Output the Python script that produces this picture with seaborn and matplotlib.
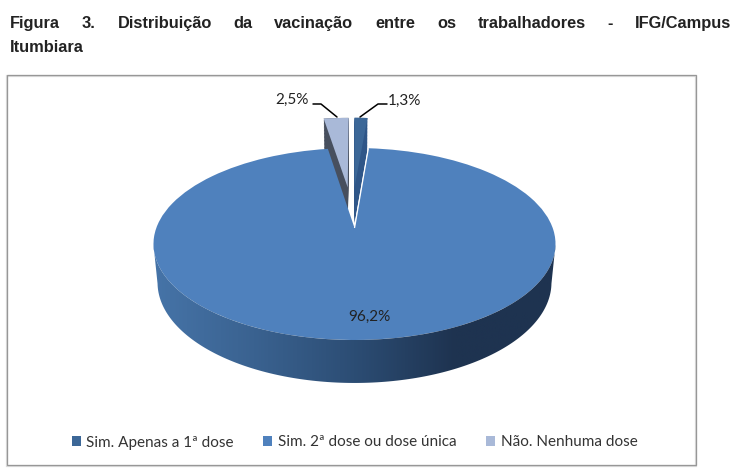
import numpy as np
import seaborn as sns
import matplotlib
matplotlib.use("Agg")
import matplotlib.pyplot as plt
from matplotlib.colors import LinearSegmentedColormap
from matplotlib.patches import Patch, Polygon, Rectangle
from matplotlib.path import Path
from matplotlib.transforms import Transform

categories = ["Sim. Apenas a 1ª dose", "Sim. 2ª dose ou dose única", "Não. Nenhuma dose"]
percent = [1.3, 96.2, 2.5]
title_lines = ["Figura 3. Distribuição da vacinação entre os trabalhadores - IFG/Campus", "Itumbiara"]

top_colors = ["#3c6797", "#4f81bd", "#a9b9d8"]
side_colors = ["#2f5688", "#2f5688", "#474f5e"]


class Tilt(Transform):
    """Perspective view of the unit pie, out in pixels. z=0 top face, z=1 bottom."""
    input_dims = output_dims = 2
    is_separable = False
    has_inverse = False

    def __init__(self, z=0.0):
        super().__init__()
        self.z = z

    def transform_non_affine(self, xy):
        xy = np.asarray(xy, dtype=float)
        w = 1 + xy[:, 1] / 6 + 0.02 * self.z
        return np.column_stack([
            354.5 + 198.2 * xy[:, 0] / w,
            228 - (93.33 * xy[:, 1] - 38.9 * self.z) / w,
        ])

    def transform_path_non_affine(self, path):
        return Path(self.transform_non_affine(path.vertices), path.codes)


def pie_layer(ax, z, colors, show):
    wedges, _ = ax.pie(percent, colors=colors, startangle=90, counterclock=False,
                       explode=[0.47, 0, 0.47], wedgeprops=dict(linewidth=0))
    wedges[0].set_center((0.0, 0.47))
    for i, wedge in enumerate(wedges):
        wedge.set_transform(Tilt(z) + ax.transData)
        wedge.set_visible(i in show)
    return wedges


def justified(ax, text, x0, x1, y, **kw):
    words = text.split()
    items = [ax.text(x0, y, w, va="baseline", ha="left", **kw) for w in words]
    r = ax.figure.canvas.get_renderer()
    widths = [t.get_window_extent(r).width for t in items]
    gap = (x1 - x0 - sum(widths)) / (len(words) - 1)
    x = x0
    for t, w in zip(items, widths):
        t.set_x(x)
        x += w + gap


sns.set_theme(style="white")
plt.rcParams["font.family"] = ["Lato", "DejaVu Sans"]

fig = plt.figure(figsize=(7.36, 4.74), dpi=100)
ax = fig.add_axes([0, 0, 1, 1])

# walls of the two pulled out slices, then their tops
for z in np.linspace(1, 0, 24):
    pie_layer(ax, z, side_colors, show=(0, 2))
pie_layer(ax, 0, top_colors, show=(0, 2))

big = pie_layer(ax, 0, top_colors, show=(1,))[1]
tilt = Tilt(0)
edge = tilt.transform(np.array([[0, 0], [np.cos(np.radians(big.theta2)), np.sin(np.radians(big.theta2))]]))
ax.plot(edge[:, 0], edge[:, 1], color="white", lw=0.9, solid_capstyle="butt", zorder=3)

# front wall of the big slice
theta = np.radians(np.linspace(190, 350, 160))
circle = np.column_stack([np.cos(theta), np.sin(theta)])
outline = np.vstack([tilt.transform(circle), Tilt(1).transform(circle)[::-1]])
wall_cmap = LinearSegmentedColormap.from_list("wall", ["#4674a8", "#3a6290", "#2c4d74", "#1e3350", "#1e3350"])
img = ax.imshow(np.linspace(0, 1, 256)[None, :], cmap=wall_cmap, aspect="auto",
                extent=(153, 556, 400, 230), zorder=2)
img.set_clip_path(Polygon(outline, transform=ax.transData))

ax.set_aspect("auto")
ax.set_xlim(0, 736)
ax.set_ylim(474, 0)
ax.axis("off")

# chart frame with its soft shadow
ax.add_patch(Rectangle((7, 75.5), 689, 390, fill=False, ec="#dcdcdc", lw=1.6, zorder=0))
ax.add_patch(Rectangle((6.5, 75), 689, 390, fill=False, ec="#979797", lw=0.9, zorder=1))

# value labels
fmt = [f"{v:.1f}%".replace(".", ",") for v in percent]
label_kw = dict(fontsize=11, color="#222222", va="center", zorder=5)
ax.text(388, 100.5, fmt[0], ha="left", **label_kw)
ax.text(369.5, 317, fmt[1], ha="center", **label_kw)
ax.text(309, 99.5, fmt[2], ha="right", **label_kw)
ax.plot([360, 378, 387], [117, 104, 104], color="black", lw=1.1, zorder=5)
ax.plot([313, 321, 337], [104, 104, 117], color="black", lw=1.1, zorder=5)

# title
title_kw = dict(family=["Liberation Sans"], fontweight="bold", fontsize=11.8, color="#222222")
justified(ax, title_lines[0], 10, 731, 28, **title_kw)
ax.text(10, 52, title_lines[1], va="baseline", **title_kw)

handles = [Patch(facecolor=c, edgecolor="none") for c in top_colors]
fig.legend(handles, categories, ncol=3, frameon=False, fontsize=11, labelcolor="#333333",
           loc="center", bbox_to_anchor=(354.5 / 736, 1 - 442.5 / 474),
           handlelength=0.6, handleheight=0.6, handletextpad=0.35, columnspacing=1.95)

fig.savefig("out.png", dpi=100)
